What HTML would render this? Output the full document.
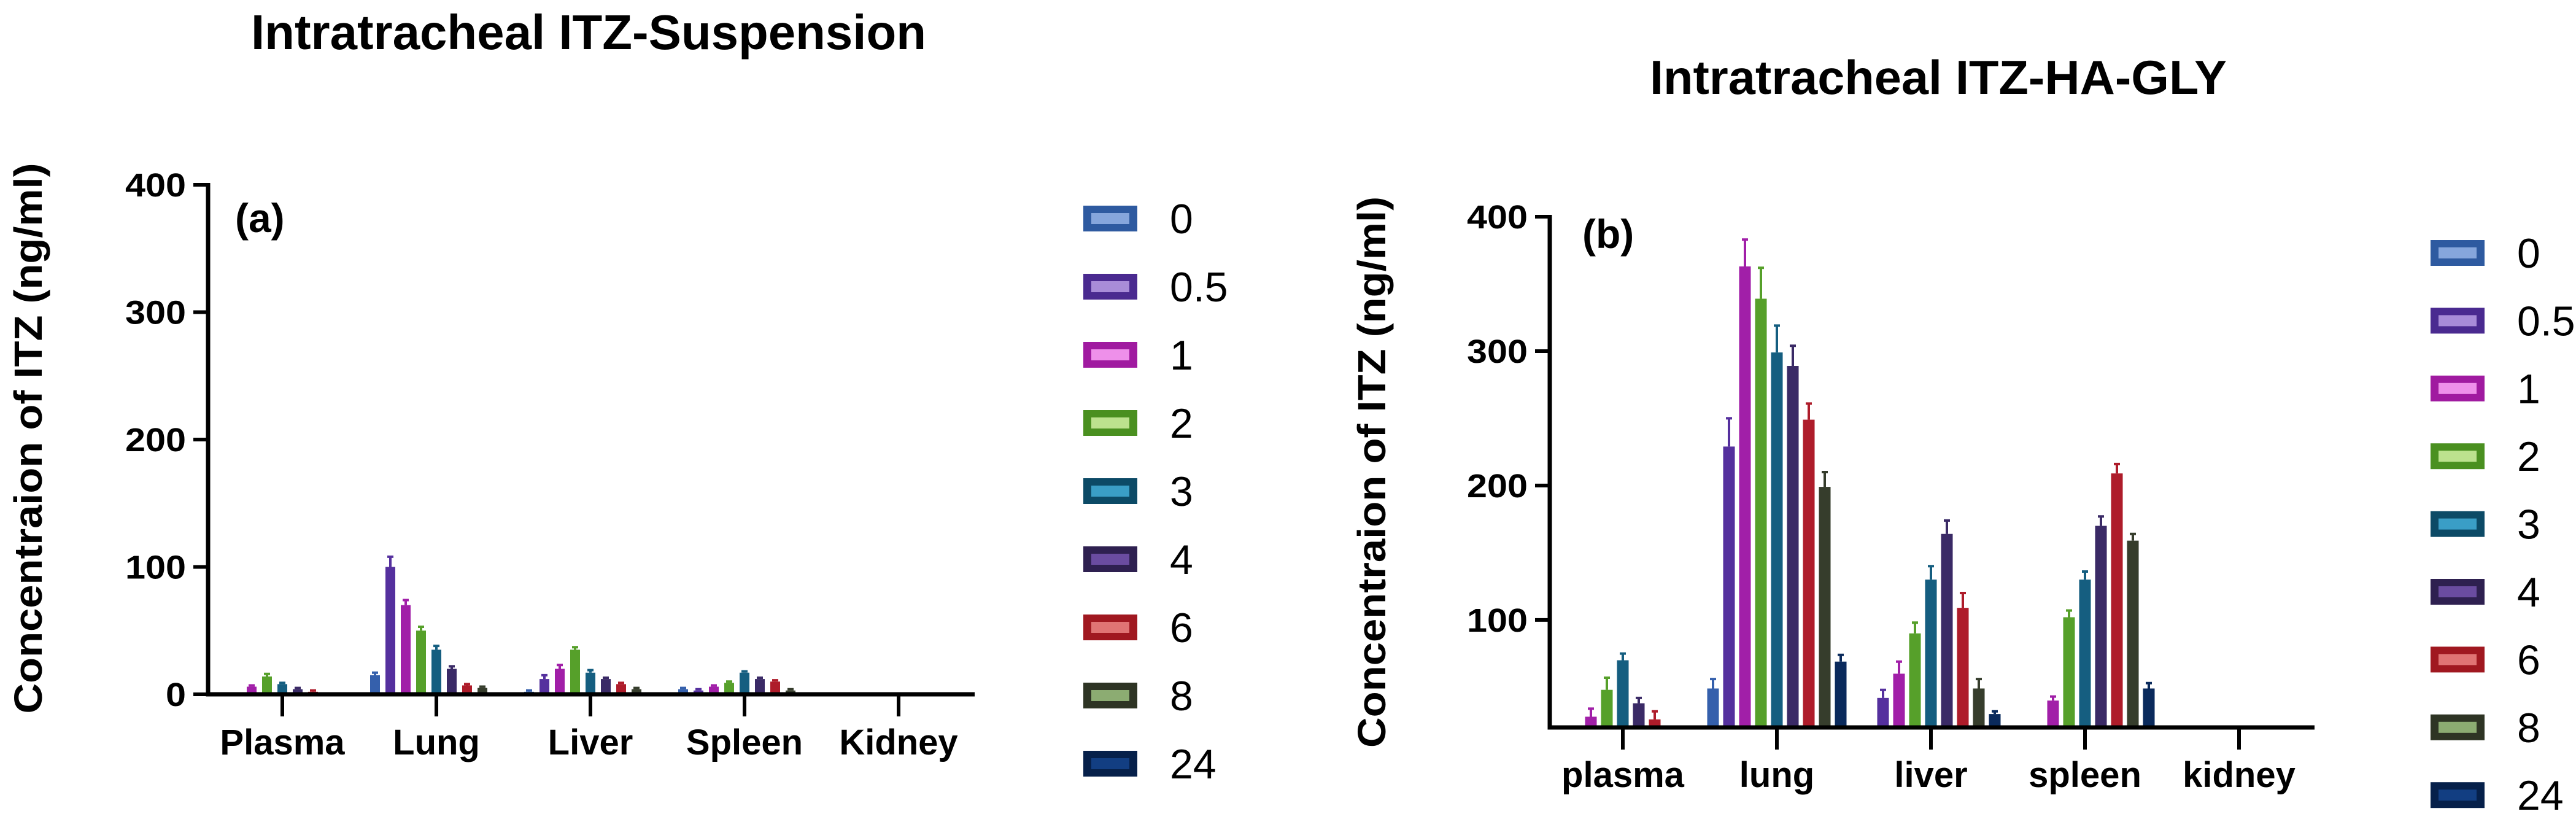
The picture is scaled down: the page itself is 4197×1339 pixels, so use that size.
<!DOCTYPE html>
<html><head><meta charset="utf-8"><style>
html,body{margin:0;padding:0;background:#fff;}
svg{display:block;}
text{font-family:"Liberation Sans",Arial,sans-serif;}
</style></head><body>
<svg id="chart" width="4197" height="1339" viewBox="0 0 4197 1339" xmlns="http://www.w3.org/2000/svg">
<rect width="4197" height="1339" fill="#fff"/>
<text x="409" y="80" font-size="80" font-weight="bold" textLength="1100" lengthAdjust="spacingAndGlyphs">Intratracheal ITZ-Suspension</text>
<text x="2688" y="153" font-size="78" font-weight="bold" textLength="940" lengthAdjust="spacingAndGlyphs">Intratracheal ITZ-HA-GLY</text>
<g id="panelA"></g>
<g id="panelB"></g>
</svg>
<script>
const seriesLabels = ['0','0.5','1','2','3','4','6','8','24'];
const categoriesA = ['Plasma','Lung','Liver','Spleen','Kidney'];
const categoriesB = ['plasma','lung','liver','spleen','kidney'];
const yTicksA = [0,100,200,300,400];
const yTicksB = [100,200,300,400];
const valuesA = [
  [1,15,2,4,0],
  [1,100,12,3,0],
  [6,70,20,6,1],
  [14,50,35,9,0],
  [8,35,17,17,0],
  [4,20,12,12,0],
  [2,7,8,10,0],
  [1,5,4,3,0],
  [0,0,0,0,0]
];
const errA = [
  [0,2,1,1,0],
  [0,8,3,1,0],
  [1,4,3,1,0],
  [2,3,2,1,0],
  [1,3,2,1,0],
  [1,2,1,1,0],
  [1,1,1,1,0],
  [0,1,1,1,0],
  [0,0,0,0,0]
];
const valuesB = [
  [null,49,null,null,null],
  [null,229,42,null,null],
  [28,363,60,40,null],
  [48,339,90,102,null],
  [70,299,130,130,null],
  [38,289,164,170,null],
  [26,249,109,209,null],
  [null,199,49,159,null],
  [null,69,30,49,null]
];
const errB = [
  [0,7,0,0,0],
  [0,21,6,0,0],
  [6,20,9,3,0],
  [9,23,8,5,0],
  [5,20,10,6,0],
  [4,15,10,7,0],
  [6,12,11,7,0],
  [0,11,7,5,0],
  [0,5,2,4,0]
];
const barColors = ['#3560ac','#55309e','#a11fa8','#56a02a','#155e80','#3a2a66','#ae1c2a','#363d2c','#0a2a5c'];
const legendBorder = ['#2e5aa0','#4a2a90','#a01aa0','#4a9020','#0c4a66','#2e2050','#a01820','#2e3424','#06204a'];
const legendFill = ['#86a6dc','#a88cd8','#ee90ea','#bce28e','#3a9ec6','#6a4ca0','#e07474','#8cac72','#123e82'];

const NS='http://www.w3.org/2000/svg';
function mk(tag, attrs, parent){const e=document.createElementNS(NS,tag);for(const k in attrs)e.setAttribute(k,attrs[k]);parent.appendChild(e);return e;}

function drawPanel(g, cfg, cats, ticks, vals, errs, prefix){
  const y = v => cfg.y0 - (v - cfg.ymin) * (cfg.y0 - cfg.y1) / (cfg.ymax - cfg.ymin);
  const cx = i => cfg.cat0 + i * cfg.catStep;
  vals.forEach((row, s) => {
    row.forEach((v, c) => {
      if (v === null || v === undefined) return;
      const x = cx(c) + (s - 4) * cfg.barStep - cfg.barW / 2;
      const top = y(Math.max(v, cfg.ymin));
      const r = mk('rect', {x:x, y:top, width:cfg.barW, height:Math.max(0, cfg.y0 - top), fill:barColors[s]}, g);
      
      
      const e = errs[s][c];
      if (e > 0) {
        const xm = x + cfg.barW / 2, ye = y(v + e);
        const l = mk('path', {d:`M${xm},${top} V${ye} M${xm-5},${ye} H${xm+5}`, stroke:barColors[s], 'stroke-width':4, fill:'none'}, g);
        
        
      }
    });
  });
  const ax = mk('path', {d:`M${cfg.ax},${cfg.y1-3} V${cfg.y0} H${cfg.axEnd}`, stroke:'#000', 'stroke-width':7, fill:'none'}, g);
  
  
  ticks.forEach(t => {
    const ty = y(t);
    const tk = mk('line', {x1:cfg.ax-24, x2:cfg.ax, y1:ty, y2:ty, stroke:'#000', 'stroke-width':6}, g);
    
    
    const label = String(t);
    const tl = mk('text', {x:cfg.ax-36, y:ty+19, 'font-size':54, 'font-weight':'bold', 'text-anchor':'end', textLength:33*label.length, lengthAdjust:'spacingAndGlyphs'}, g);
    tl.textContent = label;
    
    
  });
  cats.forEach((c, i) => {
    const tk = mk('line', {x1:cx(i), x2:cx(i), y1:cfg.y0, y2:cfg.y0+36, stroke:'#000', 'stroke-width':6}, g);
    
    
    const tl = mk('text', {x:cx(i), y:cfg.labelY, 'font-size':58, 'font-weight':'bold', 'text-anchor':'middle'}, g);
    tl.textContent = c;
    
    
  });
  const yt = mk('text', {x:0, y:0, 'font-size':64, 'font-weight':'bold', 'text-anchor':'middle', textLength:cfg.ytLen, lengthAdjust:'spacingAndGlyphs', transform:`translate(${cfg.ytX},${cfg.ytY}) rotate(-90)`}, g);
  yt.textContent = 'Concentraion of ITZ (ng/ml)';
  
  
  const pl = mk('text', {x:cfg.plX, y:cfg.plY, 'font-size':66, 'font-weight':'bold'}, g);
  pl.textContent = cfg.panelLabel;
  
  
  seriesLabels.forEach((s, i) => {
    const ly = cfg.legY + i * cfg.legStep;
    const lg = mk('g', {}, g);
    
    
    mk('rect', {x:cfg.legX, y:ly-21, width:88, height:42, fill:legendBorder[i]}, lg);
    mk('rect', {x:cfg.legX+13, y:ly-9, width:62, height:18, fill:legendFill[i]}, lg);
    const t = mk('text', {x:cfg.legX+141, y:ly+24, 'font-size':68}, lg);
    t.textContent = s;
  });
}

drawPanel(document.getElementById('panelA'),
  {ax:339, axEnd:1588, y0:1131, y1:301, ymin:0, ymax:400, cat0:460, catStep:251, barStep:25, barW:16,
   labelY:1229, ytX:68, ytY:714, ytLen:897, plX:383, plY:378, panelLabel:'(a)',
   legX:1765, legY:356, legStep:111},
  categoriesA, yTicksA, valuesA, errA, 'a');
drawPanel(document.getElementById('panelB'),
  {ax:2525, axEnd:3771, y0:1185, y1:353, ymin:20, ymax:400, cat0:2644, catStep:251, barStep:26, barW:19,
   labelY:1282, ytX:2257, ytY:769, ytLen:898, plX:2578, plY:404, panelLabel:'(b)',
   legX:3960, legY:412, legStep:110.4},
  categoriesB, yTicksB, valuesB, errB, 'b');
</script>
</body></html>
